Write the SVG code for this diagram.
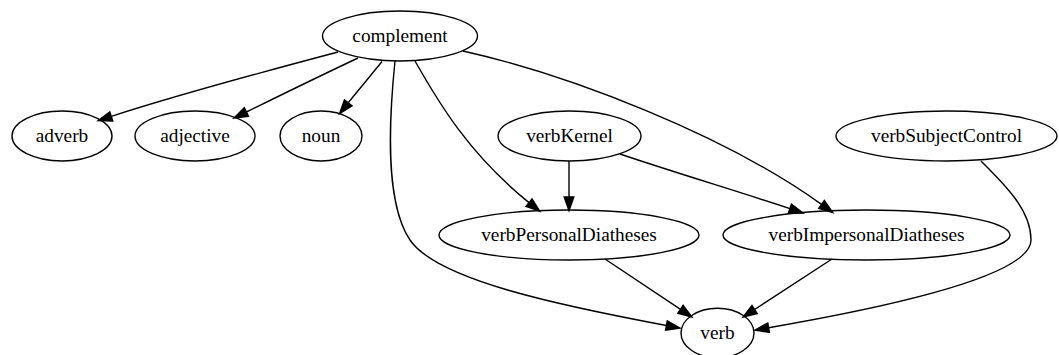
<svg xmlns="http://www.w3.org/2000/svg" width="1059" height="355" viewBox="0 0 1059 355">
  <style>
    .node ellipse { fill: none; stroke: #000; stroke-width: 1.4; }
    .node text { font-family: "Liberation Serif", "Times New Roman", serif; font-size: 19.3px; text-anchor: middle; fill: #000; }
    .edge { fill: none; stroke: #000; stroke-width: 1.4; marker-end: url(#arrow); }
  </style>
  <defs>
    <marker id="arrow" markerUnits="userSpaceOnUse" markerWidth="16" markerHeight="12" refX="0" refY="5" orient="auto" overflow="visible">
      <path d="M0,0.2 L13.8,5 L0,9.8 Z" fill="#000" stroke="#000" stroke-width="1.4"/>
    </marker>
  </defs>

  <rect width="1059" height="355" fill="#fff"/>

  <g id="connectors">
    <!-- complement -> adverb -->
    <path class="edge" d="M338,52 C270,70 180,94 111.3,116.4"/>
    <!-- complement -> adjective -->
    <path class="edge" d="M358,58 C322,75 285,93 246.4,112"/>
    <!-- complement -> noun -->
    <path class="edge" d="M382,61.5 C372,74 360,88 348.2,102.8"/>
    <!-- complement -> verb -->
    <path class="edge" d="M395,61 C390,110 383,200 410,240 C437,280 560,305.5 666.4,325.5"/>
    <!-- complement -> verbPersonalDiatheses -->
    <path class="edge" d="M415,61 C440,105 470,155 529,202.6"/>
    <!-- complement -> verbImpersonalDiatheses -->
    <path class="edge" d="M463,51 C570,75 725,135 821.5,204.4"/>
    <!-- verbKernel -> verbPersonalDiatheses -->
    <path class="edge" d="M569,161 L569,196.9"/>
    <!-- verbKernel -> verbImpersonalDiatheses -->
    <path class="edge" d="M620,154 C670,171 740,192 789.9,208.6"/>
    <!-- verbSubjectControl -> verb -->
    <path class="edge" d="M981,161 C1005,185 1031,210 1031,240 C1031,275 896.6,305.6 768.6,327.7"/>
    <!-- verbPersonalDiatheses -> verb -->
    <path class="edge" d="M605,259 L680.5,309.3"/>
    <!-- verbImpersonalDiatheses -> verb -->
    <path class="edge" d="M832,259 L754.6,309.5"/>
  </g>

  <g id="complement" class="node">
    <ellipse cx="400" cy="36" rx="77.5" ry="25"/>
    <text x="400" y="42">complement</text>
  </g>
  <g id="adverb" class="node">
    <ellipse cx="62" cy="136" rx="50" ry="25"/>
    <text x="62" y="142">adverb</text>
  </g>
  <g id="adjective" class="node">
    <ellipse cx="195" cy="136" rx="60" ry="25"/>
    <text x="195" y="142">adjective</text>
  </g>
  <g id="noun" class="node">
    <ellipse cx="321" cy="136" rx="41" ry="25"/>
    <text x="321" y="142">noun</text>
  </g>
  <g id="verbKernel" class="node">
    <ellipse cx="569.5" cy="136" rx="71.5" ry="25"/>
    <text x="569.5" y="142">verbKernel</text>
  </g>
  <g id="verbSubjectControl" class="node">
    <ellipse cx="946.5" cy="136" rx="110.5" ry="25"/>
    <text x="946.5" y="142">verbSubjectControl</text>
  </g>
  <g id="verbPersonalDiatheses" class="node">
    <ellipse cx="569" cy="235" rx="130" ry="25"/>
    <text x="569" y="241">verbPersonalDiatheses</text>
  </g>
  <g id="verbImpersonalDiatheses" class="node">
    <ellipse cx="866.5" cy="235" rx="143.5" ry="25"/>
    <text x="866.5" y="241">verbImpersonalDiatheses</text>
  </g>
  <g id="verb" class="node">
    <ellipse cx="717.5" cy="333" rx="36.5" ry="24.8"/>
    <text x="717.5" y="339">verb</text>
  </g>
</svg>
